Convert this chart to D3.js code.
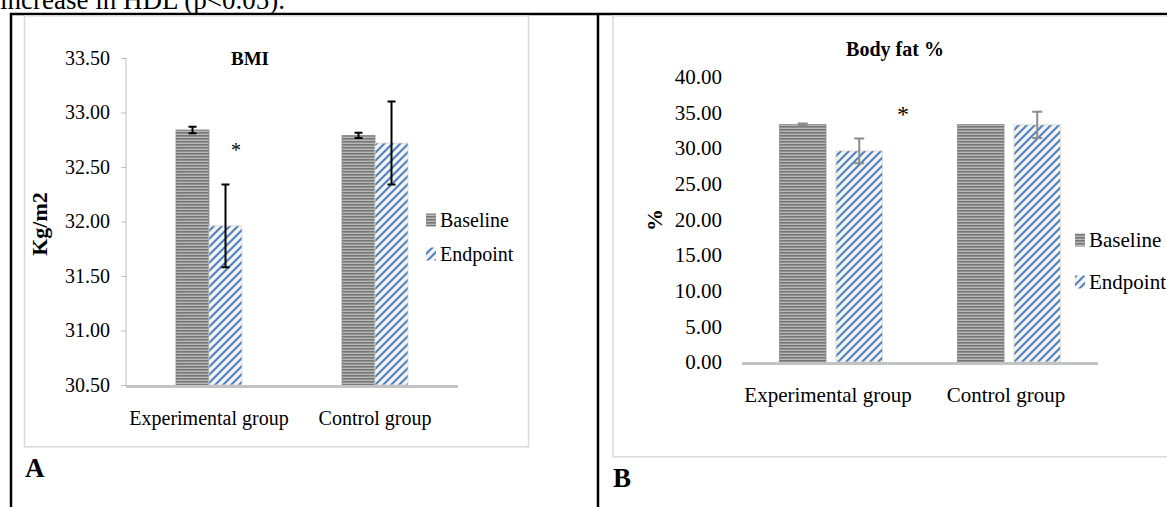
<!DOCTYPE html>
<html><head><meta charset="utf-8">
<script src="https://cdn.jsdelivr.net/npm/d3@7"></script>
<style>
body{margin:0;background:#fff}
svg{display:block}
text{font-family:"Liberation Serif","Times New Roman",serif;fill:#000}
</style>
</head><body>
<svg id="c" width="1167" height="507"></svg>
<script>
// ---- data ----
const categories = ["Experimental group", "Control group"];
const series = ["Baseline", "Endpoint"];
const bmiBaseline = [32.84, 32.79];
const bmiBaselineErr = [0.03, 0.025];
const bmiEndpoint = [31.96, 32.72];
const bmiEndpointErr = [0.38, 0.38];
const bmiTicks = [30.5, 31.0, 31.5, 32.0, 32.5, 33.0, 33.5];
const fatBaseline = [33.3, 33.3];
const fatBaselineErr = [0.15, 0];
const fatEndpoint = [29.6, 33.25];
const fatEndpointErr = [1.75, 1.85];
const fatTicks = [0, 5, 10, 15, 20, 25, 30, 35, 40];

const svg = d3.select("#c");
const defs = svg.append("defs");

// horizontal grey stripes (Baseline)
const ph = defs.append("pattern").attr("id", "hstripe").attr("patternUnits", "userSpaceOnUse")
  .attr("width", 4).attr("height", 3);
ph.append("rect").attr("width", 4).attr("height", 3).attr("fill", "#b8b8b8");
ph.append("rect").attr("width", 4).attr("height", 1.6).attr("fill", "#767676");

// diagonal blue stripes (Endpoint)
const pd = defs.append("pattern").attr("id", "dstripe").attr("patternUnits", "userSpaceOnUse")
  .attr("width", 8).attr("height", 8);
pd.append("rect").attr("width", 8).attr("height", 8).attr("fill", "#f3f3f3");
pd.append("path").attr("d", "M0,8 L8,0 M-2,2 L2,-2 M6,10 L10,6")
  .attr("stroke", "#4f81bd").attr("stroke-width", 2);

const fills = {Baseline: "url(#hstripe)", Endpoint: "url(#dstripe)"};

// ---- page text & table borders ----
svg.append("text").attr("x", 0).attr("y", 9).attr("font-size", 27).text("increase in HDL (p<0.05).");
svg.append("line").attr("x1", 10).attr("x2", 1167).attr("y1", 14).attr("y2", 14).attr("stroke", "#000").attr("stroke-width", 2.5);
svg.append("line").attr("x1", 11).attr("x2", 11).attr("y1", 13).attr("y2", 507).attr("stroke", "#000").attr("stroke-width", 2.5);
svg.append("line").attr("x1", 598).attr("x2", 598).attr("y1", 13).attr("y2", 507).attr("stroke", "#000").attr("stroke-width", 2.5);

// chart frames
svg.append("rect").attr("x", 24.5).attr("y", 15.8).attr("width", 504).attr("height", 431)
  .attr("fill", "none").attr("stroke", "#d9d9d9").attr("stroke-width", 1.5);
svg.append("rect").attr("x", 613).attr("y", 15.8).attr("width", 600).attr("height", 441)
  .attr("fill", "none").attr("stroke", "#d9d9d9").attr("stroke-width", 1.5);

svg.append("text").attr("x", 25).attr("y", 477).attr("font-size", 27).attr("font-weight", "bold").text("A");
svg.append("text").attr("x", 613).attr("y", 487).attr("font-size", 27).attr("font-weight", "bold").text("B");

function panel(o) {
  const g = svg.append("g");
  const x0 = d3.scaleBand().domain(categories).range(o.xr);
  const x1 = d3.scaleBand().domain(series).range([0, o.group]).paddingInner(o.inner);
  const y = d3.scaleLinear().domain(o.dom).range(o.yr);
  const gs = d => x0(d) + (x0.bandwidth() - o.group) / 2;

  // y axis
  const ya = g.append("g").attr("transform", `translate(${o.xr[0]},0)`)
    .call(d3.axisLeft(y).tickValues(o.ticks).tickFormat(d3.format(".2f"))
      .tickSize(o.tick).tickPadding(o.pad));
  ya.select(".domain").attr("stroke", o.yline ? "#bfbfbf" : "none").attr("d", `M0,${o.yr[1]}V${o.yr[0]}`);
  ya.selectAll(".tick line").attr("stroke", "#bfbfbf");
  ya.selectAll(".tick text").attr("font-family", "Liberation Serif").attr("font-size", o.fs).attr("fill", "#000");

  // bars
  const vals = {Baseline: o.base, Endpoint: o.end};
  const errs = {Baseline: o.baseErr, Endpoint: o.endErr};
  series.forEach(s => {
    g.selectAll(null).data(categories).join("rect")
      .attr("x", d => gs(d) + x1(s)).attr("width", x1.bandwidth())
      .attr("y", (d, i) => y(vals[s][i])).attr("height", (d, i) => y(o.dom[0]) - y(vals[s][i]))
      .attr("fill", fills[s])
      .attr("stroke", s === "Baseline" ? "#8a8a8a" : "#d9d9d9").attr("stroke-width", 0.8);
  });
  // error bars
  series.forEach(s => {
    categories.forEach((c, i) => {
      const e = errs[s][i];
      if (!e) return;
      const cx = gs(c) + x1(s) + x1.bandwidth() / 2;
      const t = y(vals[s][i] + e), b = y(vals[s][i] - e);
      g.append("path").attr("d", `M${cx},${t}V${b}M${cx - o.cap},${t}H${cx + o.cap}M${cx - o.cap},${b}H${cx + o.cap}`)
        .attr("stroke", o.errColor).attr("stroke-width", 2).attr("fill", "none");
    });
  });

  // x axis line
  g.append("line").attr("x1", o.xr[0]).attr("x2", o.xr[1]).attr("y1", o.yr[0] + 1.5).attr("y2", o.yr[0] + 1.5)
    .attr("stroke", "#c3c3c3").attr("stroke-width", 3);
  g.selectAll(null).data(categories).join("text")
    .attr("x", d => x0(d) + x0.bandwidth() / 2 + (o.lblShift || 0)).attr("y", o.lblY)
    .attr("text-anchor", "middle").attr("font-size", o.fs).text(d => d);

  // title
  g.append("text").attr("x", o.titleX).attr("y", o.titleY).attr("text-anchor", "middle")
    .attr("font-size", o.tfs).attr("font-weight", "bold").text(o.title);
  // y title
  g.append("text").attr("transform", `translate(${o.ytX},${o.ytY}) rotate(-90)`).attr("text-anchor", "middle")
    .attr("font-size", o.ytfs).attr("font-weight", "bold").text(o.ytitle);
  // asterisk
  g.append("text").attr("x", o.astX).attr("y", o.astY).attr("text-anchor", "middle")
    .attr("font-size", o.astFs).attr("fill", o.astColor).text("*");

  // legend
  series.forEach((s, i) => {
    const ly = o.legY + i * o.legGap;
    g.append("rect").attr("x", o.legX).attr("y", ly - 6.5).attr("width", 10).attr("height", 13)
      .attr("fill", fills[s]);
    g.append("text").attr("x", o.legX + 14).attr("y", ly + 7).attr("font-size", o.fs).text(s);
  });
}

panel({
  xr: [126, 458], group: 66, inner: 0, dom: [30.5, 33.5], yr: [385, 58], ticks: bmiTicks,
  tick: 5, pad: 11, yline: true, fs: 20,
  base: bmiBaseline, baseErr: bmiBaselineErr, end: bmiEndpoint, endErr: bmiEndpointErr,
  cap: 4, errColor: "#000", lblY: 425,
  title: "BMI", titleX: 250, titleY: 65, tfs: 19,
  ytitle: "Kg/m2", ytX: 47, ytY: 224, ytfs: 22,
  astX: 236, astY: 157, astFs: 20, astColor: "#444",
  legX: 426, legY: 220, legGap: 34
});

panel({
  xr: [742, 1098], group: 103, inner: 0.177, dom: [0, 40], yr: [362, 76.7], ticks: fatTicks,
  tick: 0, pad: 20, yline: false, fs: 21,
  base: fatBaseline, baseErr: fatBaselineErr, end: fatEndpoint, endErr: fatEndpointErr,
  cap: 5, errColor: "#8c8c8c", lblY: 402, lblShift: -3,
  title: "Body fat %", titleX: 895, titleY: 56, tfs: 20,
  ytitle: "%", ytX: 662, ytY: 220, ytfs: 22,
  astX: 903, astY: 122, astFs: 24, astColor: "#000",
  legX: 1075, legY: 240, legGap: 42
});
</script>
</body></html>
